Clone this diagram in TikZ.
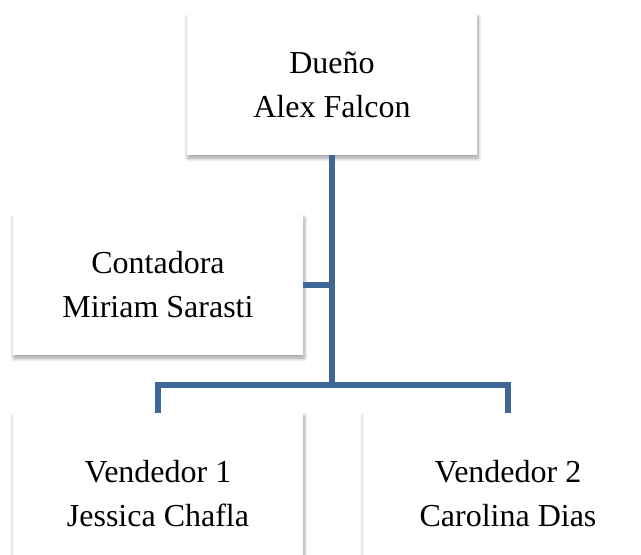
\documentclass[tikz,border=0pt]{standalone}
\usepackage{fontspec}
\setmainfont{Liberation Serif}
\usetikzlibrary{calc}
\usetikzlibrary{positioning}
\usetikzlibrary{shadows.blur}
\definecolor{orgblue}{RGB}{63,103,151}

\begin{document}
\begin{tikzpicture}[line cap=butt,line join=miter,x=1pt,y=-1pt,
    orgbox/.style={fill=white,minimum width=290pt,minimum height=141pt,
      align=center,inner sep=0pt,font=\fontsize{32}{44}\selectfont,
      blur shadow={shadow xshift=1pt,shadow yshift=-3pt,shadow blur radius=4pt,shadow blur steps=8,shadow opacity=40}},
    orgline/.style={color=orgblue,line width=5.5pt}]
      \useasboundingbox (0,0) rectangle (641,555);
      \clip (0,0) rectangle (641,555);
      \node[orgbox] (owner) at (332,84.5) {Dueño\\Alex Falcon};
      \node[orgbox,minimum height=140pt] (acct) at (158,285) {Contadora\\Miriam Sarasti};
      \node[orgbox,minimum height=162pt] (sell1) at (158,494) {Vendedor 1\\Jessica Chafla};
      \node[orgbox,minimum height=162pt] (sell2) at (508,494) {Vendedor 2\\Carolina Dias};
      \coordinate (hub) at (332,385);
      \draw[orgline] (owner.south) -- (hub);
      \draw[orgline] (sell1.north) |- (hub) -| (sell2.north);
      \draw[orgline] (acct.east) -- (hub |- acct.east);
    \end{tikzpicture}
\end{document}
